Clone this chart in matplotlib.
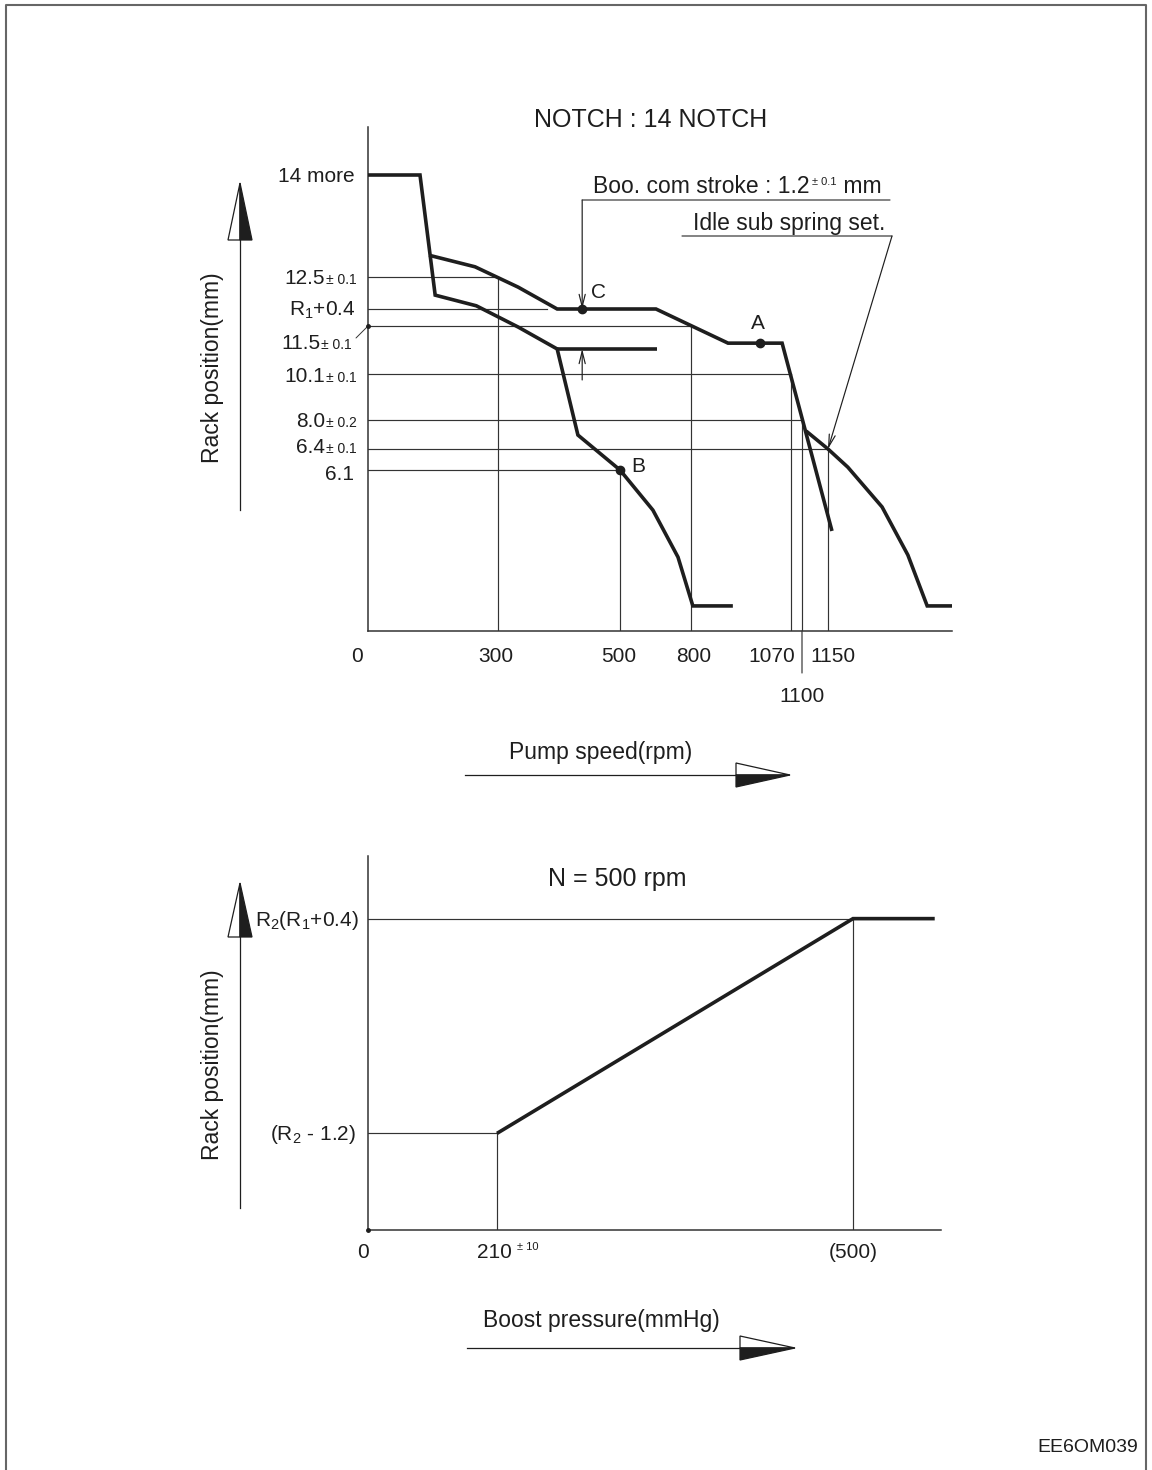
import numpy as np
import matplotlib
matplotlib.use("Agg")
import matplotlib.pyplot as plt
from matplotlib.patches import Polygon

plt.rcParams['font.family'] = ['Liberation Sans', 'DejaVu Sans']
plt.rcParams['mathtext.fontset'] = 'custom'
plt.rcParams['mathtext.rm'] = 'Liberation Sans'

# ---- data : governor chart (pump speed vs rack position) ----
speed_ticks = [0, 300, 500, 800, 1070, 1150, 1100]
speed_tick_labels = ["0", "300", "500", "800", "1070", "1150", "1100"]

rack_levels = [14, 12.5, 11.9, 11.5, 10.1, 8.0, 6.4, 6.1]
rack_labels = ["14 more", "12.5", r"$\mathregular{R_1}$+0.4", "11.5", "10.1", "8.0", "6.4", "6.1"]
rack_tols = ["", "± 0.1", "", "± 0.1", "± 0.1", "± 0.2", "± 0.1", ""]

# full load curve (without boost)
full_rpm = [0, 120, 155, 250, 333, 397, 431, 500, 639, 745, 805, 913]
full_mm = [14, 14, 12.16, 11.96, 11.47, 10.83, 7.17, 6.1, 4.58, 2.80, 0.95, 0.95]
stub_rpm = [397, 656]
stub_mm = [10.83, 10.83]
# boost compensated curve
boost_rpm = [141, 247, 333, 397, 652, 900, 1046, 1158]
boost_mm = [12.82, 12.65, 12.31, 11.9, 11.9, 11.0, 11.0, 3.79]
# idle sub spring curve
idle_rpm = [1108, 1150, 1190, 1259, 1311, 1350, 1400]
idle_mm = [7.39, 6.4, 6.14, 4.70, 2.88, 0.95, 0.95]

point_names = ["A", "B", "C"]
point_rpm = [986, 500, 438]
point_mm = [11.0, 6.1, 11.9]

guide_mm = [12.5, 11.9, 11.5, 10.1, 8.0, 6.4, 6.1]
guide_rpm = [300, 380, 800, 1070, 1100, 1150, 500]
guide_drop = [True, False, True, True, True, True, True]

# ---- data : boost compensator chart ----
press_ticks = [0, 210, 500]
press_tick_labels = ["0", "210", "(500)"]
press_rpm_curve = [210, 500, 565]
press_rack_curve = [10.7, 11.9, 11.9]
press_levels = [11.9, 10.7]
press_level_labels = [r"$\mathregular{R_2}$($\mathregular{R_1}$+0.4)", r"($\mathregular{R_2}$ - 1.2)"]

# ---- schematic (non-linear) axis scales of the drawing ----
def make_scale(vals, pos):
    vals = np.asarray(vals, float)
    pos = np.asarray(pos, float)
    return (lambda v: np.interp(v, vals, pos)), (lambda v: np.interp(v, pos, vals))

speed_scale = make_scale([0, 300, 500, 800, 1070, 1100, 1150, 1400],
                         [368, 498, 620, 691, 791, 802, 828, 952])
rack_scale = make_scale([0, 6.1, 6.4, 8.0, 10.1, 11.5, 11.9, 12.5, 14, 15],
                        [-631, -470, -449, -420, -374, -326, -309, -277, -175, -127])
press_scale = make_scale([0, 210, 500, 570], [368, 497, 853, 941])

INK = "#1e1e1e"
THIN = dict(color="#333333", lw=0.85, zorder=1)
THICK = dict(color=INK, lw=2.6, zorder=3, solid_joinstyle="miter", solid_capstyle="butt")

W, H = 1152, 1470
fig = plt.figure(figsize=(W / 100, H / 100), dpi=100)

def px_axes(l, t, r, b):
    return fig.add_axes([l / W, 1 - b / H, (r - l) / W, (b - t) / H])

# overlay for frame, arrows and titles, in pixel units
lay = fig.add_axes([0, 0, 1, 1])
lay.set_xlim(0, W)
lay.set_ylim(H, 0)
lay.axis("off")
lay.plot([6, 6, 1146, 1146], [H, 5, 5, H], color="#666666", lw=1.5)


def v_arrow(x, tip, base, bottom):
    lay.plot([x, x], [bottom, base], color=INK, lw=0.9)
    lay.add_patch(Polygon([(x, tip), (x - 12, base), (x, base)], closed=True, fc="white", ec=INK, lw=0.9))
    lay.add_patch(Polygon([(x, tip), (x + 12, base), (x, base)], closed=True, fc=INK, ec=INK, lw=0.9))


def h_arrow(y, tail, base, tip):
    lay.plot([tail, base], [y, y], color=INK, lw=0.9)
    lay.add_patch(Polygon([(tip, y), (base, y - 12), (base, y)], closed=True, fc="white", ec=INK, lw=0.9))
    lay.add_patch(Polygon([(tip, y), (base, y + 12), (base, y)], closed=True, fc=INK, ec=INK, lw=0.9))


v_arrow(240, 183, 240, 510)
v_arrow(240, 883, 937, 1208)
h_arrow(775, 465, 736, 790)
h_arrow(1348, 467, 740, 795)

lay.text(213, 368, "Rack position(mm)", rotation=90, ha="center", va="center", fontsize=16.5, color=INK)
lay.text(213, 1065, "Rack position(mm)", rotation=90, ha="center", va="center", fontsize=16.5, color=INK)
lay.text(601, 752, "Pump speed(rpm)", ha="center", va="center", fontsize=16.5, color=INK)
lay.text(601, 1320, "Boost pressure(mmHg)", ha="center", va="center", fontsize=16.5, color=INK)
lay.text(651, 120, "NOTCH : 14 NOTCH", ha="center", va="center", fontsize=18, color=INK)
lay.text(617, 879, "N = 500 rpm", ha="center", va="center", fontsize=18, color=INK)
lay.text(1138, 1448, "EE6OM039", ha="right", va="center", fontsize=14, color=INK)


def style_axes(ax):
    ax.set_facecolor("none")
    for s in ["top", "right"]:
        ax.spines[s].set_visible(False)
    for s in ["left", "bottom"]:
        ax.spines[s].set_linewidth(1.1)
        ax.spines[s].set_color("#333333")
    ax.set_xticks([])
    ax.set_yticks([])
    ax.minorticks_off()


def level_label(ax, yval, main, tol, dx, dy, size=15):
    if tol:
        t = ax.annotate(tol, xy=(0, yval), xycoords=("axes fraction", "data"), xytext=(dx, dy),
                        textcoords="offset pixels", ha="right", va="baseline", fontsize=10,
                        color=INK, annotation_clip=False)
        ax.annotate(main, xy=(0, yval), xycoords=(t, "data"), xytext=(-1, dy),
                    textcoords="offset pixels", ha="right", va="baseline", fontsize=size,
                    color=INK, annotation_clip=False)
    else:
        ax.annotate(main, xy=(0, yval), xycoords=("axes fraction", "data"), xytext=(dx, dy),
                    textcoords="offset pixels", ha="right", va="baseline", fontsize=size,
                    color=INK, annotation_clip=False)


# ================= top chart =================
ax = px_axes(368, 127, 952, 631)
ax.set_xscale("function", functions=speed_scale)
ax.set_yscale("function", functions=rack_scale)
ax.set_xlim(0, 1400)
ax.set_ylim(0, 15)
style_axes(ax)

for mm, rpm, drop in zip(guide_mm, guide_rpm, guide_drop):
    ax.plot([0, rpm], [mm, mm], **THIN)
    if drop:
        ax.plot([rpm, rpm], [mm, 0], **THIN)
ax.annotate("", xy=(1100, 0), xytext=(0, -42), textcoords="offset pixels",
            arrowprops=dict(arrowstyle="-", color="#333333", lw=0.85, shrinkA=0, shrinkB=0))

ax.plot(full_rpm, full_mm, **THICK)
ax.plot(stub_rpm, stub_mm, **THICK)
ax.plot(boost_rpm, boost_mm, **THICK)
ax.plot(idle_rpm, idle_mm, **THICK)
ax.plot(point_rpm, point_mm, "o", ms=6, color=INK, zorder=4)

name_off = {"A": (-2, 20), "B": (18, 4), "C": (16, 17)}
for n, r, m in zip(point_names, point_rpm, point_mm):
    ax.annotate(n, xy=(r, m), xytext=name_off[n], textcoords="offset pixels",
                ha="center", va="center", fontsize=15, color=INK)

# x tick labels
tick_dx = [-11, -2, -1, 3, -19, 5, 0]
tick_dy = [-25, -25, -25, -25, -25, -25, -66]
for v, lab, dx, dy in zip(speed_ticks, speed_tick_labels, tick_dx, tick_dy):
    ax.annotate(lab, xy=(v, 0), xytext=(dx, dy), textcoords="offset pixels",
                ha="center", va="center", fontsize=15, color=INK, annotation_clip=False)

# y level labels
lab_dx = [-13, -11, -12, -16, -11, -11, -11, -14]
lab_dy = [-7, -7, -7, -23, -8, -7, -4, -10]
for v, lab, tol, dx, dy in zip(rack_levels, rack_labels, rack_tols, lab_dx, lab_dy):
    level_label(ax, v, lab, tol, dx, dy)
ax.annotate("", xy=(0, 11.5), xycoords=("axes fraction", "data"), xytext=(-12, -12),
            textcoords="offset pixels",
            arrowprops=dict(arrowstyle="-", color="#333333", lw=0.7, shrinkA=0, shrinkB=0))
ax.plot([0], [11.5], "o", ms=2.5, color=INK, clip_on=False, zorder=4)

# boost compensator stroke note
arrow_kw = dict(arrowstyle="->,head_length=0.8,head_width=0.2", color=INK, lw=0.85,
                shrinkA=0, shrinkB=0, mutation_scale=11)
lead_y = (631 - 200) / 504
ax.annotate("", xy=(point_rpm[2], point_mm[2]), xytext=(point_rpm[2], lead_y),
            textcoords=("data", "axes fraction"), arrowprops=arrow_kw)
ax.annotate("", xy=((890 - 368) / 584, lead_y), xycoords="axes fraction",
            xytext=(point_rpm[2], lead_y), textcoords=("data", "axes fraction"),
            arrowprops=dict(arrowstyle="-", color="#333333", lw=0.85, shrinkA=0, shrinkB=0))
ax.annotate("", xy=(point_rpm[2], stub_mm[0]), xytext=(0, -31), textcoords="offset pixels",
            arrowprops=arrow_kw)
t1 = ax.annotate("Boo. com stroke : 1.2", xy=((593 - 368) / 584, lead_y), xycoords="axes fraction",
                 xytext=(0, 7), textcoords="offset pixels", ha="left", va="baseline",
                 fontsize=16.5, color=INK)
t2 = ax.annotate("± 0.1", xy=(1, 1), xycoords=t1, xytext=(3, -2), textcoords="offset pixels",
                 ha="left", va="top", fontsize=8, color=INK)
ax.annotate(" mm", xy=(1, 0), xycoords=(t2, t1), ha="left", va="bottom", fontsize=16.5, color=INK)

# idle sub spring note
idle_y = (631 - 236) / 504
ax.annotate("Idle sub spring set.", xy=((885 - 368) / 584, idle_y), xycoords="axes fraction",
            xytext=(0, 6), textcoords="offset pixels", ha="right", va="baseline",
            fontsize=16.5, color=INK)
ax.annotate("", xy=((892 - 368) / 584, idle_y), xycoords="axes fraction",
            xytext=((682 - 368) / 584, idle_y), textcoords="axes fraction",
            arrowprops=dict(arrowstyle="-", color="#333333", lw=0.85, shrinkA=0, shrinkB=0))
ax.annotate("", xy=(1150, 6.4), xytext=((892 - 368) / 584, idle_y), textcoords="axes fraction",
            arrowprops=arrow_kw)

# ================= bottom chart =================
bx = px_axes(368, 856, 941, 1230)
bx.set_xscale("function", functions=press_scale)
bx.set_xlim(0, 570)
bx.set_ylim(10.16, 12.25)
style_axes(bx)

bx.plot([0, press_ticks[2]], [press_levels[0]] * 2, **THIN)
bx.plot([press_ticks[2]] * 2, [press_levels[0], 10.16], **THIN)
bx.plot([0, press_ticks[1]], [press_levels[1]] * 2, **THIN)
bx.plot([press_ticks[1]] * 2, [press_levels[1], 10.16], **THIN)
bx.plot(press_rpm_curve, press_rack_curve, **THICK)
bx.plot([0], [10.16], "o", ms=2.5, color=INK, clip_on=False, zorder=4)

p_dx = [-5, -3, 0]
for v, lab, dx in zip(press_ticks, press_tick_labels, p_dx):
    t = bx.annotate(lab, xy=(v, 10.16), xytext=(dx, -23), textcoords="offset pixels",
                    ha="center", va="center", fontsize=15, color=INK, annotation_clip=False)
    if lab == "210":
        bx.annotate("± 10", xy=(1, 1), xycoords=t, xytext=(6, 2), textcoords="offset pixels",
                    ha="left", va="top", fontsize=8, color=INK)

for v, lab, dx in zip(press_levels, press_level_labels, [-9, -12]):
    level_label(bx, v, lab, "", dx, -7)

fig.savefig("out.png", dpi=100)
